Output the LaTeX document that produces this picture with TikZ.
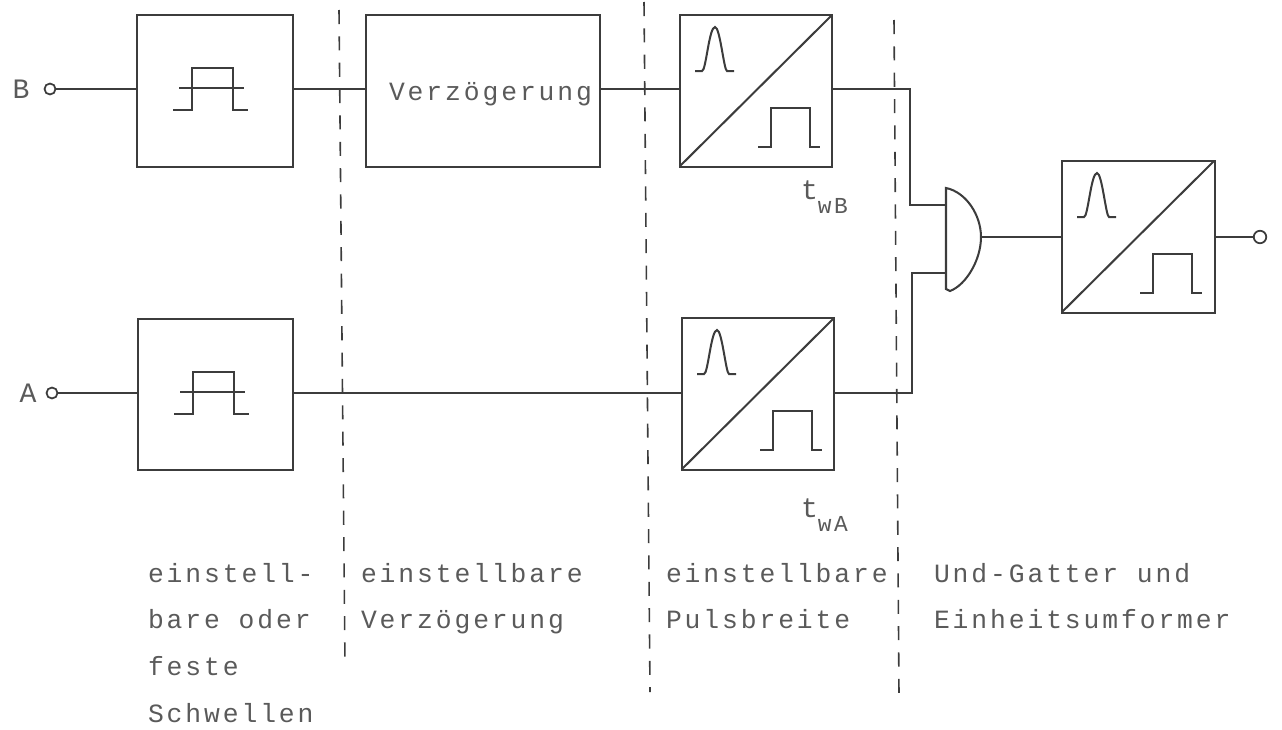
\documentclass[tikz,border=0pt]{standalone}
\usepackage{fontspec}
\newfontfamily\plotfont[LetterSpace=11]{Liberation Mono}
\definecolor{ink}{HTML}{3C3C3C}
\definecolor{typeink}{HTML}{5A5A5A}
\begin{document}
\begin{tikzpicture}[
  x=0.02cm,
  y=-0.02cm,
  color=ink,
  line width=1.15pt,
  block/.style={
    draw,
    inner sep=0pt,
    outer sep=0pt,
    minimum height=3.04cm,
    text=typeink,
    font=\fontsize{15}{16}\plotfont
  },
  port/.style={circle, draw, line width=1pt, inner sep=0pt, outer sep=0pt, minimum size=0.22cm},
  caption/.style={
    anchor=north west,
    align=left,
    inner sep=0pt,
    text=typeink,
    font=\fontsize{15}{26.6}\plotfont
  },
  letter/.style={inner sep=0pt, text=typeink, font=\fontsize{16}{17}\plotfont},
  sepline/.style={line width=0.9pt, dash pattern=on 8pt off 7pt},
  schwelle/.pic={
    \draw (36,95) -- (55,95) -- (55,53) -- (96,53) -- (96,95) -- (111,95);
    \draw (42,73) -- (107,73);
  },
  wandler/.pic={
    \draw (0,151) -- (152,0);
    \draw (15,56) -- (22,56) .. controls (26,56) and (29,12) .. (35,12)
      .. controls (40,12) and (44,56) .. (47,56) -- (54,56);
    \draw (78,132) -- (91,132) -- (91,93) -- (130,93) -- (130,132) -- (140,132);
  }
]
\useasboundingbox (0,0) rectangle (1282,730);
% eingaenge
\node[letter] (nameB) at (21,89) {B};
\node[port] (inB) at (50,89) {};
\node[letter] (nameA) at (28,393) {A};
\node[port] (inA) at (52,393) {};
% obere reihe
\node[block, minimum width=3.12cm] (schwB) at (215,91) {};
\node[block, minimum width=4.68cm] (delay) at (483,91) {\hspace{0.3cm}\smash{\raisebox{-0.2cm}{Verzögerung}}};
\node[block, minimum width=3.04cm] (wandB) at (756,91) {};
% untere reihe
\node[block, minimum width=3.1cm] (schwA) at (215.5,394.5) {};
\node[block, minimum width=3.04cm] (wandA) at (758,394) {};
% ausgang
\node[block, minimum width=3.06cm] (wandOut) at (1138.5,237) {};
\node[port, minimum size=0.25cm] (out) at (1260,237) {};
% und-gatter
\coordinate (gateB) at (946,205);
\coordinate (gateA) at (946,273);
\coordinate (gateOut) at (981,237);
\coordinate (busB) at (910,205);
\coordinate (busA) at (912,273);
\draw (946,188) .. controls (966,192) and (981,215) .. (gateOut)
  .. controls (981,260) and (966,285) .. (950,291) -- (946,289) -- cycle;
% symbole
\pic at (schwB.north west) {schwelle};
\pic at (schwA.north west) {schwelle};
\pic at (wandB.north west) {wandler};
\pic at (wandA.north west) {wandler};
\pic at (wandOut.north west) {wandler};
% leitungen
\draw (inB) -- (inB -| schwB.west);
\draw (schwB.east |- inB) -- (delay.west |- inB);
\draw (delay.east |- inB) -- (wandB.west |- inB);
\draw (wandB.east |- inB) -| (busB) -- (gateB);
\draw (inA) -- (inA -| schwA.west);
\draw (schwA.east |- inA) -- (wandA.west |- inA);
\draw (wandA.east |- inA) -| (busA) -- (gateA);
\draw (gateOut) -- (wandOut.west);
\draw (wandOut.east) -- (out);
% trennlinien
\coordinate (sepa1) at (339,10);
\coordinate (sepa2) at (345,666);
\coordinate (sepb1) at (644,2);
\coordinate (sepb2) at (650,692);
\coordinate (sepc1) at (894,20);
\coordinate (sepc2) at (899,694);
\draw[sepline] (sepa1) -- (sepa2);
\draw[sepline] (sepb1) -- (sepb2);
\draw[sepline] (sepc1) -- (sepc2);
% zeiten
\node[letter, anchor=west] (tB) at (800,197) {t\raisebox{-0.9ex}{\fontsize{13}{14}\plotfont wB}};
\node[letter, anchor=west] (tA) at (800,515) {t\raisebox{-0.9ex}{\fontsize{13}{14}\plotfont wA}};
% beschriftung
\node[caption] (textSchw) at (147,562) {einstell-\\bare oder\\feste\\Schwellen};
\node[caption] (textDelay) at (360,562) {einstellbare\\Verzögerung};
\node[caption] (textPuls) at (665,562) {einstellbare\\Pulsbreite};
\node[caption] (textGate) at (933,562) {Und-Gatter und\\Einheitsumformer};
\end{tikzpicture}
\end{document}
